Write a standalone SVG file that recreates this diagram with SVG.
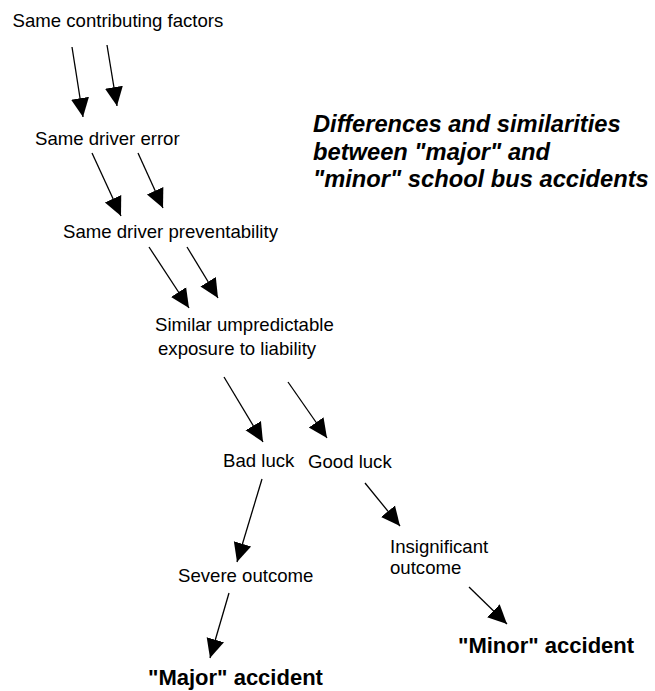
<svg xmlns="http://www.w3.org/2000/svg" width="655" height="691" viewBox="0 0 655 691">
<style>
.t{font-family:"Liberation Sans",Arial,sans-serif;font-size:18.6px;fill:#000}
.b{font-family:"Liberation Sans",Arial,sans-serif;font-size:22px;font-weight:bold;fill:#000}
.title{font-family:"Liberation Sans",Arial,sans-serif;font-size:23.7px;font-weight:bold;font-style:italic;fill:#000}
.c line{stroke:#000;stroke-width:1.3;marker-end:url(#ah)}
</style>
<defs>
<marker id="ah" markerUnits="userSpaceOnUse" markerWidth="22" markerHeight="22" viewBox="0 0 22 22" refX="19" refY="11" orient="auto">
<path d="M0,2 L19,11 L0,20 Z" fill="#000"/>
</marker>
</defs>
<rect width="655" height="691" fill="#fff"/>
<g id="title"><text class="title"><tspan x="313" y="132">Differences and similarities</tspan><tspan x="313" y="160">between "major" and</tspan><tspan x="313" y="187">"minor" school bus accidents</tspan></text></g>
<g id="n1"><text class="t" x="12.5" y="26.5">Same contributing factors</text></g>
<g id="n2"><text class="t" x="35" y="145">Same driver error</text></g>
<g id="n3"><text class="t" x="63" y="238">Same driver preventability</text></g>
<g id="n4"><text class="t"><tspan x="155" y="331">Similar umpredictable</tspan><tspan x="158" y="355">exposure to liability</tspan></text></g>
<g id="n5"><text class="t" x="223" y="467">Bad luck</text></g>
<g id="n6"><text class="t" x="308" y="468">Good luck</text></g>
<g id="n7"><text class="t" x="178" y="582">Severe outcome</text></g>
<g id="n8"><text class="t"><tspan x="390" y="553">Insignificant</tspan><tspan x="390" y="574">outcome</tspan></text></g>
<g id="n9"><text class="b" x="148" y="685">"Major" accident</text></g>
<g id="n10"><text class="b" x="458" y="653">"Minor" accident</text></g>
<g id="connectors" class="c">
<line x1="72" y1="47" x2="83" y2="117"/>
<line x1="107" y1="45" x2="117" y2="106"/>
<line x1="92" y1="153" x2="121" y2="216"/>
<line x1="138" y1="153" x2="163" y2="208"/>
<line x1="149" y1="247" x2="189" y2="308"/>
<line x1="187" y1="247" x2="218" y2="298"/>
<line x1="224" y1="377" x2="263" y2="442"/>
<line x1="288" y1="382" x2="327" y2="438"/>
<line x1="262" y1="479" x2="237" y2="562"/>
<line x1="365" y1="483" x2="400" y2="526"/>
<line x1="229" y1="593" x2="210" y2="658"/>
<line x1="469" y1="587" x2="507" y2="624"/>
</g>
</svg>
